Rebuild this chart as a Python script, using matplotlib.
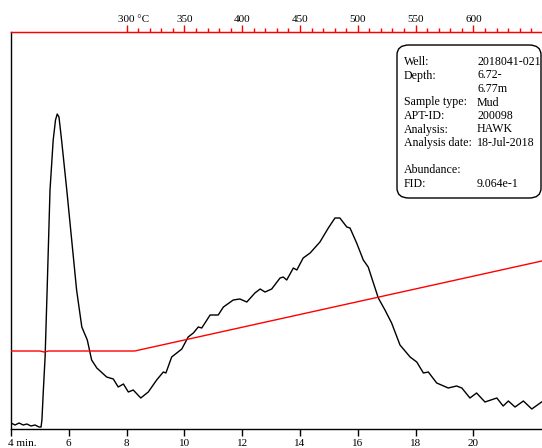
import numpy as np
import matplotlib
matplotlib.use('Agg')
import matplotlib.pyplot as plt
from matplotlib.patches import FancyBboxPatch
from matplotlib.transforms import ScaledTranslation

# FID trace (retention time in minutes, signal in arbitrary units)
tiempo = [4.00, 4.14, 4.28, 4.42, 4.55, 4.69, 4.83, 4.97, 5.04, 5.07, 5.12, 5.18, 5.25, 5.35,
          5.46, 5.54, 5.60, 5.66, 5.75, 5.93, 6.10, 6.27, 6.45, 6.64, 6.79, 6.97, 7.31, 7.54,
          7.71, 7.89, 8.06, 8.23, 8.49, 8.75, 9.04, 9.27, 9.36, 9.56, 9.91, 10.13, 10.31, 10.48,
          10.60, 10.89, 11.17, 11.35, 11.69, 11.92, 12.16, 12.44, 12.62, 12.79, 13.02, 13.31,
          13.42, 13.54, 13.77, 13.89, 14.11, 14.35, 14.69, 14.98, 15.21, 15.38, 15.62, 15.73,
          15.96, 16.19, 16.36, 16.54, 16.71, 16.94, 17.17, 17.46, 17.81, 18.04, 18.27, 18.44,
          18.73, 19.13, 19.42, 19.60, 19.88, 20.11, 20.40, 20.81, 21.03, 21.21, 21.44, 21.73,
          22.02, 22.36]
senal = [6, 4, 6, 4, 5, 3, 4, 2, 2, 9, 39, 72, 139, 239,
         289, 309, 315, 312, 289, 239, 189, 139, 102, 89, 69, 61, 52, 50,
         42, 45, 37, 39, 31, 37, 49, 57, 56, 72, 80, 92, 96, 102,
         101, 114, 114, 122, 129, 130, 127, 136, 140, 137, 140, 151,
         152, 149, 161, 159, 171, 176, 187, 201, 211, 211, 202, 201,
         186, 169, 162, 146, 131, 119, 106, 84, 72, 67, 56, 57,
         46, 41, 43, 41, 31, 36, 27, 31, 23, 28, 22, 28,
         20, 27]

# oven temperature program
tiempo_temp = [4.0, 5.0, 5.15, 5.3, 8.28, 22.37]
temperatura = [300, 300, 296, 300, 300, 652]

temp_ticks = [300, 350, 400, 450, 500, 550, 600]
temp_labels = ['300 \u00b0C', '350', '400', '450', '500', '550', '600']
min_ticks = [4, 6, 8, 10, 12, 14, 16, 18, 20]
min_labels = ['4 min.', '6', '8', '10', '12', '14', '16', '18', '20']

info = [('Well:', '2018041-021'), ('Depth:', '6.72-'), ('', '6.77m'),
        ('Sample type:', 'Mud'), ('APT-ID:', '200098'), ('Analysis:', 'HAWK'),
        ('Analysis date:', '18-Jul-2018'), ('', ''), ('Abundance:', ''),
        ('FID:', '9.064e-1')]

plt.rcParams['font.family'] = ['Liberation Serif', 'DejaVu Serif']
plt.rcParams['font.size'] = 8

W, H = 542, 448
fig = plt.figure(figsize=(W / 100, H / 100), dpi=100)
ax = fig.add_axes([11 / W, (H - 429) / H, (W - 11) / W, 397 / H])

ax.plot(tiempo, senal, color='black', lw=1)
ax.set_xlim(4, 4 + (W - 11) / 28.9)
ax.set_ylim(0, 397)
ax.set_yticks([])
ax.spines['right'].set_visible(False)
ax.spines['top'].set_color('red')
ax.spines['top'].set_linewidth(1)
ax.spines['left'].set_linewidth(1)
ax.spines['bottom'].set_linewidth(1)

ax.set_xticks(min_ticks)
ax.set_xticklabels(min_labels)
ax.tick_params(axis='x', direction='out', length=5, width=1, pad=2)
lbl = ax.get_xticklabels()[0]
lbl.set_horizontalalignment('left')
lbl.set_transform(lbl.get_transform() + ScaledTranslation(-3 / 100, 0, fig.dpi_scale_trans))

# temperature trace on its own scale
ax2 = ax.twinx()
ax2.plot(tiempo_temp, temperatura, color='red', lw=1)
por_px = (652 - 300) / 90.0
ax2.set_ylim(300 - 78 * por_px, 300 + 319 * por_px)
ax2.set_yticks([])
for s in ax2.spines.values():
    s.set_visible(False)

# top temperature axis
sec = ax.secondary_xaxis('top', functions=(lambda t: 300 + (t - 8) * 25,
                                           lambda T: 8 + (T - 300) / 25))
sec.set_xticks(temp_ticks)
sec.set_xticklabels(temp_labels)
sec.set_xticks(np.arange(310, 660, 10), minor=True)
sec.tick_params(axis='x', which='major', direction='out', length=5, width=1, color='red', pad=1)
sec.tick_params(axis='x', which='minor', direction='out', length=3, width=1, color='red')
sec.spines['top'].set_color('red')
lbl = sec.get_xticklabels()[0]
lbl.set_horizontalalignment('left')
lbl.set_transform(lbl.get_transform() + ScaledTranslation(-9 / 100, 0, fig.dpi_scale_trans))

# info box
caja = FancyBboxPatch((397 / W, 1 - 198 / H), (541 - 397) / W, (198 - 45) / H,
                      boxstyle='round,pad=0,rounding_size=0.022', transform=fig.transFigure,
                      facecolor='white', edgecolor='black', lw=1, zorder=5)
fig.patches.append(caja)
for i, (k, v) in enumerate(info):
    y = 1 - (62 + 13.5 * i) / H
    fig.text(404 / W, y, k, va='center', ha='left', fontsize=8.6, zorder=6)
    fig.text(477 / W, y, v, va='center', ha='left', fontsize=8.6, zorder=6)

fig.savefig('out.png', dpi=100)
